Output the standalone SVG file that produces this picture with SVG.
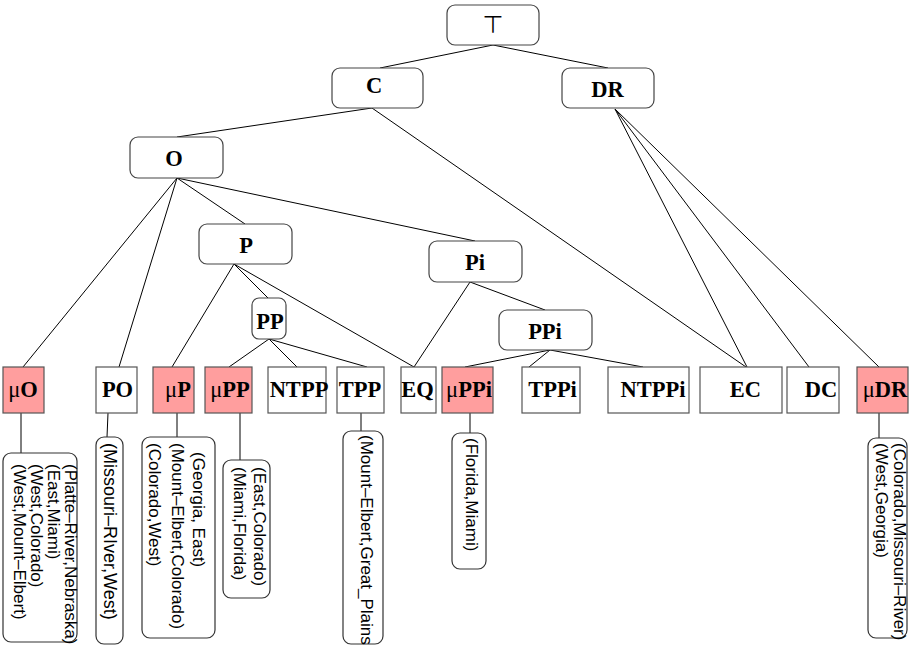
<svg xmlns="http://www.w3.org/2000/svg" width="916" height="645" viewBox="0 0 916 645">
<style>
.nd{fill:#fff;stroke:#444;stroke-width:1.2}
.lf{fill:#fff;stroke:#555;stroke-width:1.2}
.mu{fill:#ff9e9e;stroke:#555;stroke-width:1.2}
.lb{fill:#fff;stroke:#333;stroke-width:1.2}
.t{font-family:"Liberation Serif","Times New Roman",serif;font-weight:bold;font-size:22.5px;fill:#000;text-anchor:middle}
.g{font-weight:normal}
.s{font-family:"Liberation Sans",Arial,sans-serif;font-size:17px;fill:#000}
.e line{stroke:#000;stroke-width:1}
</style>
<rect width="916" height="645" fill="#fff"/>
<g class="e" id="connectors">
<line x1="493" y1="45" x2="380" y2="68"/>
<line x1="493" y1="45" x2="608" y2="68"/>
<line x1="372" y1="108" x2="177" y2="137"/>
<line x1="372" y1="108" x2="746" y2="367"/>
<line x1="615" y1="109" x2="747" y2="367"/>
<line x1="615" y1="109" x2="809" y2="367"/>
<line x1="615" y1="109" x2="879" y2="367"/>
<line x1="177" y1="178" x2="23" y2="367"/>
<line x1="177" y1="178" x2="119" y2="367"/>
<line x1="177" y1="178" x2="245" y2="224"/>
<line x1="177" y1="178" x2="475" y2="241"/>
<line x1="234" y1="264" x2="172" y2="367"/>
<line x1="234" y1="264" x2="268" y2="298"/>
<line x1="234" y1="264" x2="414" y2="367"/>
<line x1="269" y1="339" x2="229" y2="367"/>
<line x1="269" y1="339" x2="297" y2="367"/>
<line x1="269" y1="339" x2="367" y2="367"/>
<line x1="470" y1="282" x2="414" y2="367"/>
<line x1="470" y1="282" x2="545" y2="310"/>
<line x1="550" y1="350" x2="465" y2="367"/>
<line x1="550" y1="350" x2="529" y2="367"/>
<line x1="550" y1="350" x2="643" y2="367"/>
<line x1="21" y1="413" x2="21" y2="453"/>
<line x1="108" y1="413" x2="107" y2="437"/>
<line x1="177" y1="413" x2="177" y2="437"/>
<line x1="240" y1="413" x2="240" y2="460"/>
<line x1="361" y1="413" x2="361" y2="431"/>
<line x1="470" y1="413" x2="470" y2="433"/>
<line x1="879" y1="413" x2="879" y2="438"/>
</g>
<g id="top"><rect class="nd" x="447" y="5" width="92" height="40" rx="8"/><text x="493" y="33" font-family="DejaVu Sans,sans-serif" font-size="24" text-anchor="middle">⊤</text></g>
<g id="C"><rect class="nd" x="332" y="68" width="91" height="40" rx="8"/><text class="t" x="374" y="92.5">C</text></g>
<g id="DR"><rect class="nd" x="562" y="68" width="92" height="40" rx="8"/><text class="t" x="607.5" y="97">DR</text></g>
<g id="O"><rect class="nd" x="130" y="137" width="93" height="41" rx="8"/><text class="t" x="174" y="166">O</text></g>
<g id="P"><rect class="nd" x="199" y="224" width="93" height="40" rx="8"/><text class="t" x="246" y="253">P</text></g>
<g id="PP"><rect class="nd" x="252" y="298" width="34" height="41" rx="7"/><text class="t" x="270" y="329">PP</text></g>
<g id="Pi"><rect class="nd" x="429" y="241" width="93" height="41" rx="8"/><text class="t" x="475" y="270">Pi</text></g>
<g id="PPi"><rect class="nd" x="499" y="310" width="93" height="40" rx="8"/><text class="t" x="545" y="339">PPi</text></g>
<g id="muO"><rect class="mu" x="3" y="367" width="41" height="46"/><text class="t" x="23" y="397"><tspan class="g">μ</tspan>O</text></g>
<g id="PO"><rect class="lf" x="96" y="367" width="41" height="46"/><text class="t" x="117.5" y="397">PO</text></g>
<g id="muP"><rect class="mu" x="153" y="367" width="41" height="46"/><text class="t" x="178" y="397"><tspan class="g">μ</tspan>P</text></g>
<g id="muPP"><rect class="mu" x="205" y="367" width="47" height="46"/><text class="t" x="230" y="397"><tspan class="g">μ</tspan>PP</text></g>
<g id="NTPP"><rect class="lf" x="268" y="367" width="58" height="46"/><text class="t" x="299" y="397">NTPP</text></g>
<g id="TPP"><rect class="lf" x="337" y="367" width="47" height="46"/><text class="t" x="360" y="397">TPP</text></g>
<g id="EQ"><rect class="lf" x="401" y="367" width="35" height="46"/><text class="t" x="417.5" y="397">EQ</text></g>
<g id="muPPi"><rect class="mu" x="442" y="367" width="51" height="46"/><text class="t" x="469" y="397"><tspan class="g">μ</tspan>PPi</text></g>
<g id="TPPi"><rect class="lf" x="522" y="367" width="58" height="46"/><text class="t" x="552.5" y="397">TPPi</text></g>
<g id="NTPPi"><rect class="lf" x="608" y="367" width="81" height="46"/><text class="t" x="653" y="397">NTPPi</text></g>
<g id="EC"><rect class="lf" x="700" y="367" width="82" height="46"/><text class="t" x="745.5" y="397">EC</text></g>
<g id="DC"><rect class="lf" x="787" y="367" width="52" height="46"/><text class="t" x="821" y="397">DC</text></g>
<g id="muDR"><rect class="mu" x="857" y="367" width="51" height="46"/><text class="t" x="885" y="397"><tspan class="g">μ</tspan>DR</text></g>
<g id="lab_muO"><rect class="lb" x="3" y="453" width="74" height="189" rx="8"/>
<text class="s" transform="translate(65,464) rotate(90)">(Platte–River,Nebraska)</text>
<text class="s" transform="translate(48,464) rotate(90)">(East,Miami)</text>
<text class="s" transform="translate(31,464) rotate(90)">(West,Colorado)</text>
<text class="s" transform="translate(14,464) rotate(90)">(West,Mount–Elbert)</text></g>
<g id="lab_PO"><rect class="lb" x="96" y="437" width="27" height="207" rx="8"/>
<text class="s" font-size="18" style="font-size:18px" transform="translate(104,443) rotate(90)">(Missouri–RIver,West)</text></g>
<g id="lab_muP"><rect class="lb" x="142" y="437" width="73" height="201" rx="8"/>
<text class="s" transform="translate(193,452) rotate(90)">(Georgia, East)</text>
<text class="s" transform="translate(172,443) rotate(90)">(Mount–Elbert,Colorado)</text>
<text class="s" transform="translate(149,443) rotate(90)">(Colorado,West)</text></g>
<g id="lab_muPP"><rect class="lb" x="223" y="460" width="47" height="138" rx="8"/>
<text class="s" transform="translate(254,467) rotate(90)">(East,Colorado)</text>
<text class="s" transform="translate(234,467) rotate(90)">(Miami,Florida)</text></g>
<g id="lab_TPP"><rect class="lb" x="343" y="431" width="40" height="213" rx="8"/>
<text class="s" transform="translate(361,435) rotate(90)">(Mount–Elbert,Great_Plains)</text></g>
<g id="lab_muPPi"><rect class="lb" x="452" y="433" width="34" height="136" rx="8"/>
<text class="s" transform="translate(466,438) rotate(90)">(Florida,Miami)</text></g>
<g id="lab_muDR"><rect class="lb" x="868" y="438" width="39" height="200" rx="8"/>
<text class="s" transform="translate(894,443) rotate(90)">(Colorado,Missouri–River)</text>
<text class="s" transform="translate(876,443) rotate(90)">(West,Georgia)</text></g>
</svg>
